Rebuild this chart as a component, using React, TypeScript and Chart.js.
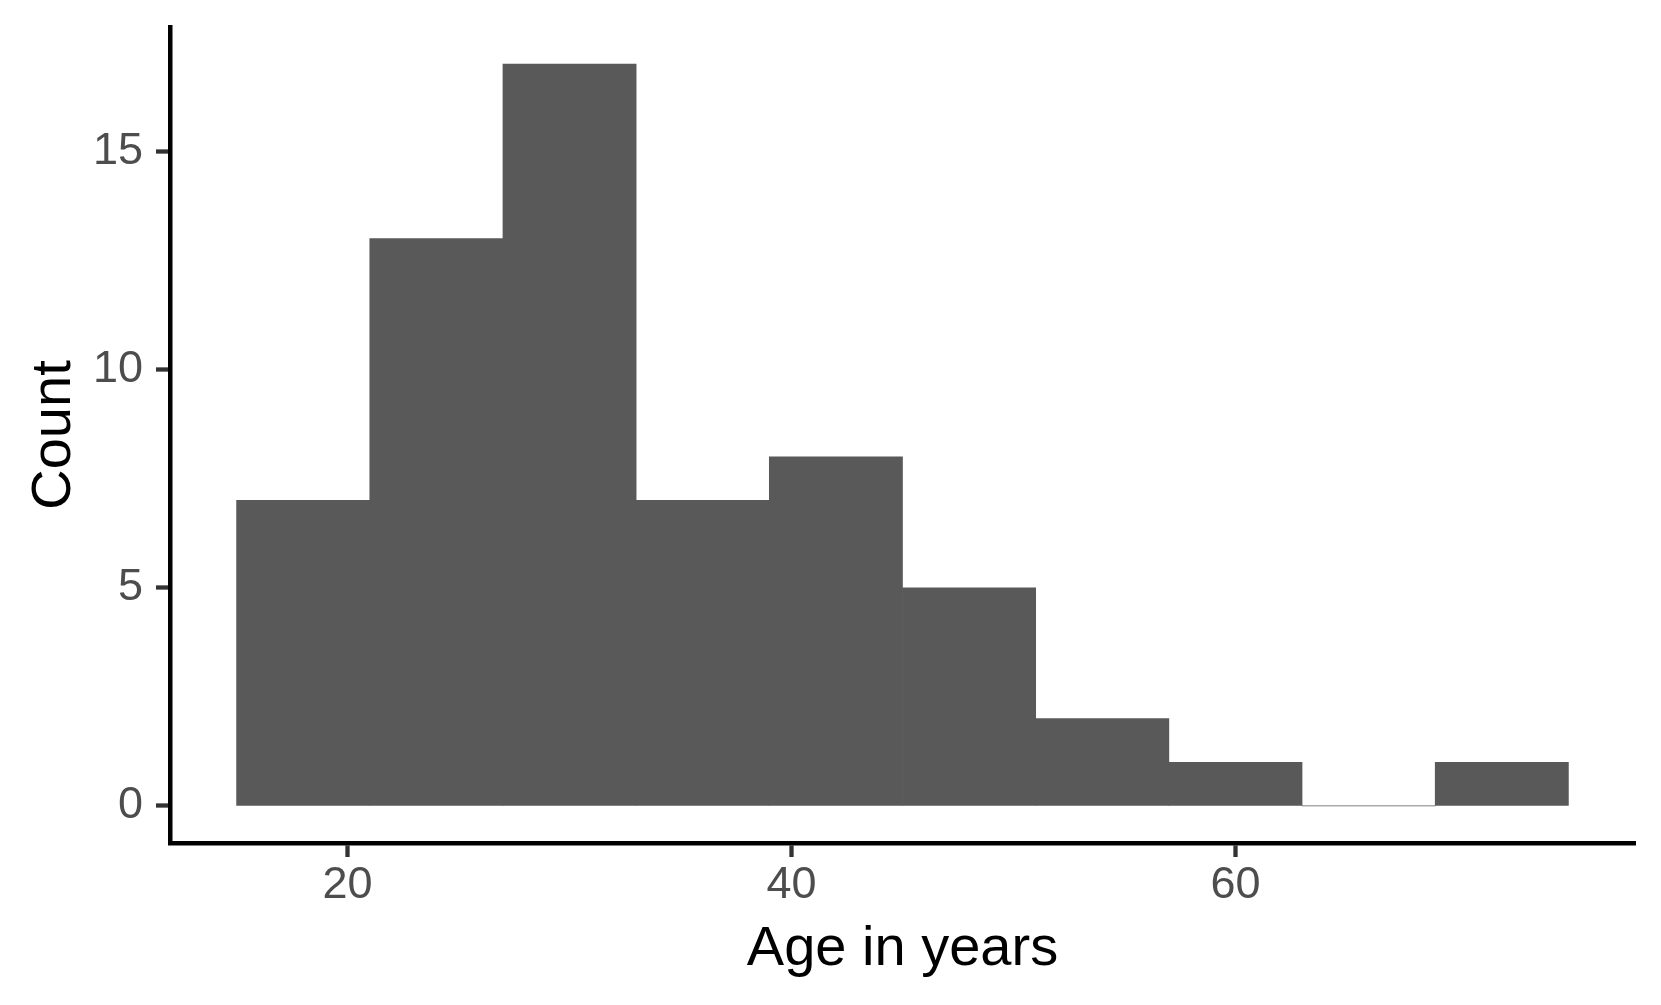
import React, { useEffect, useRef } from "react";
import { Chart, registerables } from "chart.js";

Chart.register(...registerables);

const binStarts = [15, 21, 27, 33, 39, 45, 51, 57, 63, 69];
const binWidth = 6;
const counts = [7, 13, 17, 7, 8, 5, 2, 1, 0, 1];
const xTicks = [20, 40, 60];
const yTicks = [0, 5, 10, 15];
const xTitle = "Age in years";
const yTitle = "Count";

const FONT = '"Liberation Sans", Arial, Helvetica, sans-serif';

export default function App() {
  const canvasRef = useRef<HTMLCanvasElement | null>(null);

  useEffect(() => {
    document.body.style.margin = "0";
    const canvas = canvasRef.current;
    if (!canvas) return;

    const titlePlugin = {
      id: "axisTitles",
      afterDraw(chart: any) {
        const { ctx, chartArea } = chart;
        ctx.save();
        ctx.fillStyle = "#000000";
        ctx.font = `56px ${FONT}`;
        ctx.textAlign = "center";
        ctx.textBaseline = "alphabetic";
        ctx.fillText(xTitle, (chartArea.left + chartArea.right) / 2, chartArea.bottom + 122);
        ctx.translate(70, (chartArea.top + chartArea.bottom) / 2);
        ctx.rotate(-Math.PI / 2);
        ctx.fillText(yTitle, 0, 0);
        ctx.restore();
      },
    };

    const chart = new Chart(canvas, {
      type: "bar",
      data: {
        datasets: [
          {
            data: binStarts.map((s, i) => ({ x: s + binWidth / 2, y: counts[i] })),
            backgroundColor: "#595959",
            borderWidth: 0,
            barPercentage: 1,
            categoryPercentage: 1,
          },
        ],
      },
      options: {
        animation: false,
        responsive: true,
        maintainAspectRatio: false,
        layout: { padding: { top: 27, right: 26, left: 0, bottom: 0 } },
        plugins: {
          legend: { display: false },
          tooltip: { enabled: false },
        },
        scales: {
          x: {
            type: "linear",
            min: 12,
            max: 78,
            offset: false,
            afterBuildTicks: (scale: any) => {
              scale.ticks = xTicks.map((v) => ({ value: v }));
            },
            afterFit: (scale: any) => {
              scale.height = 162;
              scale.paddingLeft = 0;
              scale.paddingRight = 0;
            },
            grid: {
              offset: false,
              display: true,
              drawOnChartArea: false,
              drawTicks: true,
              tickLength: 14,
              tickWidth: 4.3,
              tickColor: "#333333",
            },
            border: { display: true, color: "#000000", width: 4.5 },
            ticks: {
              color: "#4D4D4D",
              font: { family: FONT, size: 45 },
              padding: 2,
              maxRotation: 0,
              autoSkip: false,
            },
          },
          y: {
            type: "linear",
            min: -0.85,
            max: 17.85,
            afterBuildTicks: (scale: any) => {
              scale.ticks = yTicks.map((v) => ({ value: v }));
            },
            afterFit: (scale: any) => {
              scale.width = 170;
              scale.paddingTop = 0;
              scale.paddingBottom = 0;
            },
            grid: {
              display: true,
              drawOnChartArea: false,
              drawTicks: true,
              tickLength: 14,
              tickWidth: 4.3,
              tickColor: "#333333",
            },
            border: { display: true, color: "#000000", width: 4.5 },
            ticks: {
              color: "#4D4D4D",
              font: { family: FONT, size: 45 },
              padding: 13,
              autoSkip: false,
            },
          },
        },
      },
      plugins: [titlePlugin],
    } as any);

    return () => {
      chart.destroy();
    };
  }, []);

  return (
    <div style={{ position: "absolute", left: 0, top: 0, width: 1661, height: 1005, background: "#ffffff" }}>
      <canvas ref={canvasRef} />
    </div>
  );
}
